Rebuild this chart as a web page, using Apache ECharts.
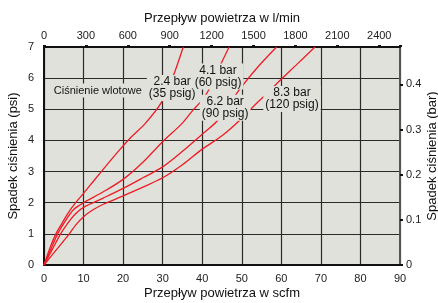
<!DOCTYPE html>
<html>
<head>
<meta charset="utf-8">
<script src="https://cdn.jsdelivr.net/npm/echarts@6/dist/echarts.min.js"></script>
<style>
html, body { margin: 0; padding: 0; background: #fff; }
#chart { width: 438px; height: 303px; }
</style>
</head>
<body>
<div id="chart"></div>
<script>
// flow (scfm) / pressure drop (psi) pairs
const curve35 = [[0,0],[1.5,0.55],[3,1],[4.5,1.33],[6,1.65],[8,2.0],[10,2.3],[13,2.77],[16,3.23],[19,3.68],[22,4.1],[25.5,4.53],[29.7,5.22],[32.7,6.08],[35.2,7]]
const curve60 = [[0,0],[1.7,0.5],[3.45,1],[5,1.34],[7.5,1.78],[10,2.0],[15,2.35],[20,2.75],[25,3.3],[30,3.96],[34.8,4.53],[37.5,4.95],[40,5.3],[42,5.7],[44.9,6.5],[46.8,7]]
const curve90 = [[0,0],[2.1,0.5],[4.2,1],[5.5,1.25],[7.5,1.58],[10,1.85],[15,2.15],[20,2.46],[25,2.8],[30,3.15],[35,3.65],[40,4.2],[43.6,4.6],[46.5,5.1],[49.5,5.65],[54,6.35],[58.8,7]]
const curve120 = [[0,0],[3.2,0.5],[6.4,1],[8,1.28],[10,1.55],[12.5,1.78],[15,1.95],[20,2.22],[25,2.5],[30,2.8],[35,3.22],[40,3.72],[45,4.15],[49.5,4.65],[53,5.1],[56.3,5.5],[59.7,5.93],[64,6.45],[68.5,7]]

const scfmTicks = [0, 90]
const lpmTicks = [0, 300, 600, 900, 1200, 1500, 1800, 2100, 2400]
const psiTicks = [0, 7]
const barTicks = [0, 0.1, 0.2, 0.3, 0.4]
const SCFM_TO_LPM = 28.317
const PSI_TO_BAR = 0.0689476

// annotation texts with their anchor in data coords (scfm, psi)
const notes = [
	{ text: 'Ciśnienie wlotowe', at: [13.6, 5.6], size: 11 },
	{ text: '2.4 bar\n(35 psig)', at: [32.4, 5.68], size: 12 },
	{ text: '4.1 bar\n(60 psig)', at: [44, 6.05], size: 12 },
	{ text: '6.2 bar\n(90 psig)', at: [45.8, 5.05], size: 12 },
	{ text: '8.3 bar\n(120 psig)', at: [62.7, 5.33], size: 12 },
]

const font = 'Liberation Sans, Arial, sans-serif'
const plotBg = '#e1e1dc'

const instance = echarts.init(document.getElementById('chart'), null, { renderer: 'canvas' })

function lineSeries(data) {
	return {
		type: 'line',
		data: data,
		xAxisIndex: 0,
		yAxisIndex: 0,
		smooth: 0.3,
		symbol: 'none',
		lineStyle: { color: '#ee1c24', width: 1.3 },
		silent: true,
		z: 3,
	}
}

const nameStyle = { fontFamily: font, fontSize: 13, color: '#111' }

const option = {
	animation: false,
	grid: {
		left: 44,
		right: 38,
		top: 47,
		bottom: 38,
		containLabel: false,
		outerBoundsMode: 'none',
		show: true,
		backgroundColor: plotBg,
		borderWidth: 0,
	},
	xAxis: [
		{
			type: 'value',
			min: scfmTicks[0],
			max: scfmTicks[1],
			interval: 10,
			position: 'bottom',
			name: 'Przepływ powietrza w scfm',
			nameLocation: 'middle',
			nameGap: 22,
			nameMoveOverlap: false,
			nameTextStyle: nameStyle,
			axisLine: { show: true, onZero: false, lineStyle: { color: '#111', width: 2 } },
			axisTick: { show: false },
			axisLabel: { fontFamily: font, fontSize: 11, color: '#222', margin: 8 },
			splitLine: { show: true, lineStyle: { color: '#2a2a2a', width: 1.2 } },
		},
		{
			type: 'value',
			min: 0,
			max: scfmTicks[1] * SCFM_TO_LPM,
			interval: 300,
			position: 'top',
			name: 'Przepływ powietrza w l/min',
			nameLocation: 'middle',
			nameGap: 22,
			nameMoveOverlap: false,
			nameTextStyle: nameStyle,
			axisLine: { show: true, onZero: false, lineStyle: { color: '#111', width: 2 } },
			axisTick: { show: true, length: 2, lineStyle: { color: '#111', width: 3 } },
			axisLabel: {
				fontFamily: font, fontSize: 11, color: '#222', margin: 6,
				formatter: v => lpmTicks.includes(v) ? String(v) : '',
			},
			splitLine: { show: false },
		},
	],
	yAxis: [
		{
			type: 'value',
			min: psiTicks[0],
			max: psiTicks[1],
			interval: 1,
			position: 'left',
			name: 'Spadek ciśnienia (psi)',
			nameLocation: 'middle',
			nameGap: 24,
			nameMoveOverlap: false,
			nameTextStyle: nameStyle,
			axisLine: { show: true, onZero: false, lineStyle: { color: '#111', width: 2 } },
			axisTick: { show: false },
			axisLabel: { fontFamily: font, fontSize: 11, color: '#222', margin: 10 },
			splitLine: { show: true, lineStyle: { color: '#2a2a2a', width: 1.2 } },
		},
		{
			type: 'value',
			min: 0,
			max: psiTicks[1] * PSI_TO_BAR,
			interval: 0.1,
			position: 'right',
			name: 'Spadek ciśnienia (bar)',
			nameLocation: 'middle',
			nameGap: 26,
			nameMoveOverlap: false,
			nameTextStyle: nameStyle,
			axisLine: { show: true, onZero: false, lineStyle: { color: '#555', width: 2 } },
			axisTick: { show: true, length: 3, lineStyle: { color: '#111', width: 2 } },
			axisLabel: {
				fontFamily: font, fontSize: 11, color: '#222', margin: 6,
				showMaxLabel: false,
				formatter: v => {
					const t = barTicks.find(b => Math.abs(b - v) < 1e-6)
					return t === undefined ? '' : (t === 0 ? '0' : t.toFixed(1))
				},
			},
			splitLine: { show: false },
		},
	],
	series: [curve35, curve60, curve90, curve120].map(lineSeries),
}

instance.setOption(option)

// place the text boxes once the scales exist
const graphics = notes.map(n => {
	const p = instance.convertToPixel({ xAxisIndex: 0, yAxisIndex: 0 }, n.at)
	return {
		type: 'text',
		x: p[0],
		y: p[1],
		z: 10,
		style: {
			text: n.text,
			fill: '#111',
			font: n.size + 'px ' + font,
			align: 'center',
			verticalAlign: 'middle',
			lineHeight: 12,
			backgroundColor: plotBg,
			padding: [1, 2],
		},
	}
})
instance.setOption({ graphic: graphics })
</script>
</body>
</html>
